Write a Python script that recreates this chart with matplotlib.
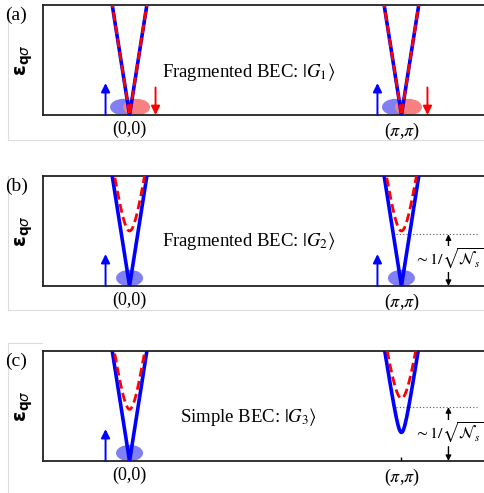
import numpy as np
import matplotlib
matplotlib.use("Agg")
import matplotlib.pyplot as plt
from matplotlib.patches import Ellipse
from matplotlib.lines import Line2D

# ---- data ----
panel_labels = ["(a)", "(b)", "(c)"]
panel_texts = [r"Fragmented BEC: $|G_1\rangle$",
               r"Fragmented BEC: $|G_2\rangle$",
               r"Simple BEC: $|G_3\rangle$"]
tick_pos = [0.0, np.pi]
tick_labels = ["(0,0)", r"($\pi$,$\pi$)"]
# gaps of the blue (solid) and red (dashed) branches at (0,0) and (pi,pi)
blue_gap = [[0.0, 0.0], [0.0, 0.0], [0.0, 0.26]]
red_gap = [[0.0, 0.0], [0.5, 0.5], [0.47, 0.57]]
velocity = 5.0
# level of the dotted reference line (None if absent)
dotted_level = [None, 0.47, 0.49]
blue_cond = [[True, True], [True, True], [True, False]]
red_cond = [[True, True], [False, False], [False, False]]
blue_spin = [[True, True], [True, True], [True, False]]
red_spin = [[True, True], [False, False], [False, False]]

BLUE = "#0000ff"
RED = "#ff0000"
BLUE_E = "#8080f4"
RED_E = "#f88080"

plt.rcParams["mathtext.fontset"] = "stix"
plt.rcParams["font.family"] = ["Liberation Serif", "DejaVu Serif"]

fig = plt.figure(figsize=(4.85, 4.93), dpi=100)
W, H = 485.0, 493.0

# faint frames around each panel
frame_col = "#dcdcdc"
for (y0, y1) in [(12, 140), (176, 310), (343, 493)]:
    fig.add_artist(Line2D([8 / W, 8 / W], [1 - y1 / H, 1 - y0 / H],
                          color=frame_col, lw=0.8, transform=fig.transFigure))
for y in [140, 310]:
    fig.add_artist(Line2D([8 / W, 1], [1 - y / H, 1 - y / H],
                          color=frame_col, lw=0.8, transform=fig.transFigure))
fig.add_artist(Line2D([8 / W, 42 / W], [1 - 343 / H, 1 - 343 / H],
                      color=frame_col, lw=0.8, transform=fig.transFigure))

tops = [5, 176, 351]
text_x = [162, 162, 180]
text_y = [72, 241, 417]
ax_h = 110
x_left_px, x_right_px = 43, 488
xlim = (-1.0, np.pi + 1.0)
px_per_unit = (x_right_px - x_left_px) / (xlim[1] - xlim[0])

for i in range(3):
    top = tops[i]
    bot = top + ax_h
    ax = fig.add_axes([x_left_px / W, 1 - bot / H,
                       (x_right_px - x_left_px) / W, ax_h / H])
    ax.set_xlim(*xlim)
    ax.set_ylim(0, 1)
    for s in ax.spines.values():
        s.set_linewidth(1.3)
        s.set_color("#222222")
    ax.set_xticks(tick_pos)
    ax.set_xticklabels(tick_labels, fontsize=13)
    ax.set_yticks([])
    ax.tick_params(axis="x", direction="in", length=3, width=1, pad=4)

    ax.set_ylabel(r"$\mathbf{\varepsilon}_{\mathbf{q}\sigma}$", fontsize=14,
                  math_fontfamily="dejavusans", labelpad=6)

    # condensate ellipses
    ew = 27 / px_per_unit
    eh = 0.15
    for k, x0 in enumerate(tick_pos):
        both = blue_cond[i][k] and red_cond[i][k]
        if blue_cond[i][k]:
            cx = x0 - (6 / px_per_unit if both else 0)
            ax.add_patch(Ellipse((cx, 0.072), ew, eh, color=BLUE_E, lw=0, zorder=2))
        if red_cond[i][k]:
            cx = x0 + (7 / px_per_unit if both else 0)
            ax.add_patch(Ellipse((cx, 0.072), ew, eh, color=RED_E, lw=0, zorder=2.1))

    # dispersion branches
    for k, x0 in enumerate(tick_pos):
        q = np.linspace(-0.35, 0.35, 701)
        eb = np.sqrt((velocity * q) ** 2 + blue_gap[i][k] ** 2)
        er = np.sqrt((velocity * q) ** 2 + red_gap[i][k] ** 2)
        ax.plot(x0 + q, eb, color=BLUE, lw=2.6, zorder=3, solid_capstyle="butt")
        ax.plot(x0 + q, er, color=RED, lw=2.0, zorder=4, dashes=(3.2, 1.6))

    # spin arrows
    for k, x0 in enumerate(tick_pos):
        if blue_spin[i][k]:
            bx = x0 - 24 / px_per_unit
            ax.annotate("", xy=(bx, 0.29), xytext=(bx, 0.0),
                        arrowprops=dict(arrowstyle="-|>", color=BLUE, lw=1.4,
                                        mutation_scale=13, shrinkA=0, shrinkB=0),
                        zorder=5, annotation_clip=False)
        if red_spin[i][k]:
            rx = x0 + 26 / px_per_unit
            ax.annotate("", xy=(rx, 0.0), xytext=(rx, 0.25),
                        arrowprops=dict(arrowstyle="-|>", color=RED, lw=1.4,
                                        mutation_scale=13, shrinkA=0, shrinkB=0),
                        zorder=5, annotation_clip=False)

    # dotted line + gap indication
    if dotted_level[i] is not None:
        lv = dotted_level[i]
        x_a = np.pi - 5 / px_per_unit
        x_b = np.pi + 76 / px_per_unit
        ax.plot([x_a, x_b], [lv, lv], color="#555555", lw=0.8, ls=(0, (1, 2)), zorder=2)
        xa = np.pi + 47 / px_per_unit
        ax.annotate("", xy=(xa, lv), xytext=(xa, lv - 0.14),
                    arrowprops=dict(arrowstyle="-|>", color="black", lw=1.0,
                                    mutation_scale=8, shrinkA=0, shrinkB=0))
        ax.annotate("", xy=(xa, 0.0), xytext=(xa, 0.13),
                    arrowprops=dict(arrowstyle="-|>", color="black", lw=1.0,
                                    mutation_scale=8, shrinkA=0, shrinkB=0))
        ax.text(xa, lv / 2 + 0.01, r"$\sim 1/\sqrt{\mathcal{N}_s}$",
                fontsize=11.5, ha="center", va="center", zorder=6,
                bbox=dict(facecolor="white", edgecolor="none", pad=0.5))

    # descriptive text
    fig.text(text_x[i] / W, 1 - text_y[i] / H, panel_texts[i], fontsize=13.5,
             ha="left", va="center")
    # panel label
    fig.text(5 / W, 1 - (top + 10) / H, panel_labels[i], fontsize=14,
             ha="left", va="center")

fig.savefig("out.png", dpi=100)
